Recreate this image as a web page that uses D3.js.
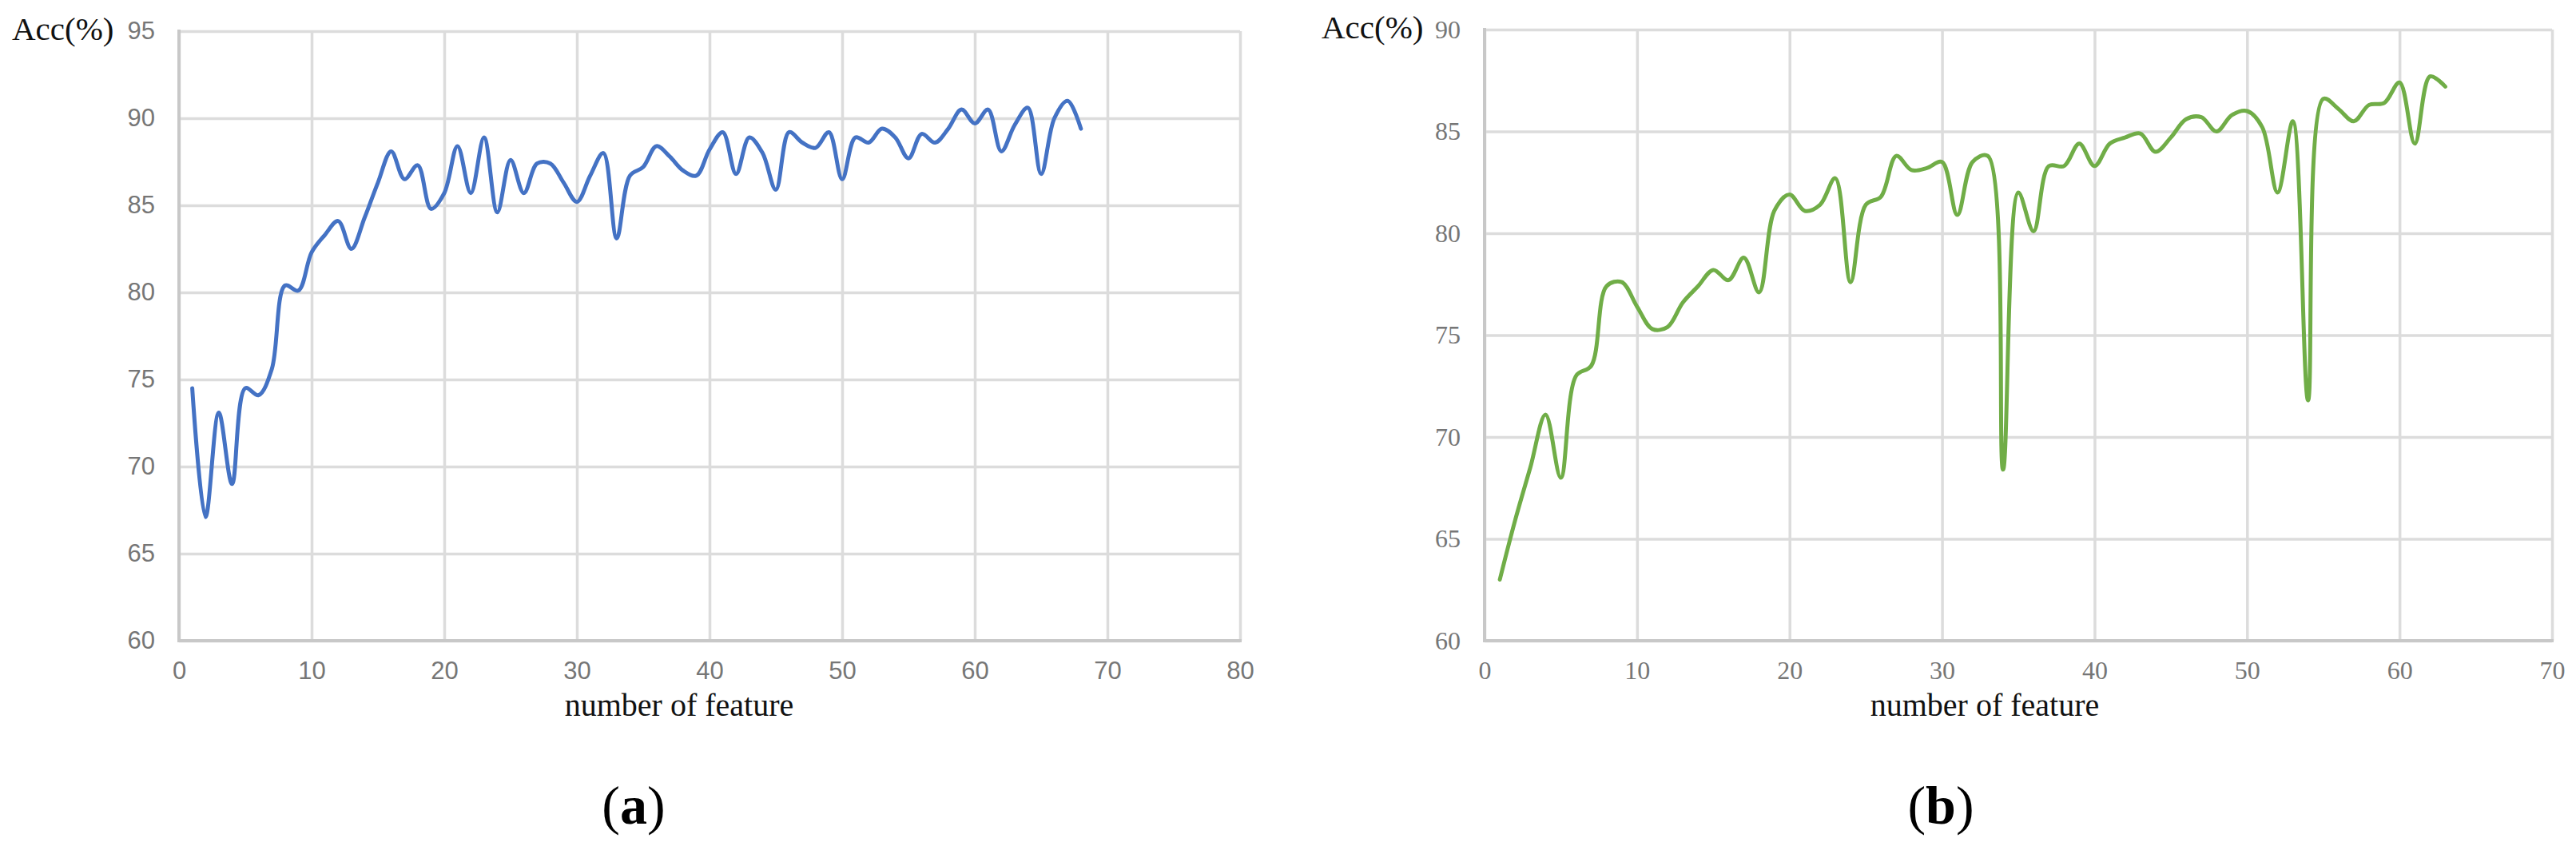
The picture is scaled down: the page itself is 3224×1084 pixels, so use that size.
<!DOCTYPE html>
<html>
<head>
<meta charset="utf-8">
<script src="https://cdn.jsdelivr.net/npm/d3@7"></script>
<style>
  body { margin: 0; background: #fff; }
  svg { display: block; }
</style>
</head>
<body>
<div id="root"></div>
<script>
const w = 3224;
const h = 1084;

// (a) accuracy for 1..68 features
const accA = [
    74.5, 67.1, 73.1, 69.0, 74.5, 74.1, 75.6, 80.4, 80.1, 82.3,
    83.3, 84.1, 82.5, 84.3, 86.3, 88.1, 86.5, 87.3, 84.8, 85.7,
    88.4, 85.7, 88.9, 84.6, 87.6, 85.7, 87.4, 87.4, 86.3, 85.2,
    86.7, 88.0, 83.1, 86.7, 87.2, 88.4, 87.8, 87.0, 86.7, 88.2,
    89.2, 86.8, 88.9, 88.0, 85.9, 89.2, 88.6, 88.3, 89.2, 86.5,
    88.9, 88.6, 89.4, 88.9, 87.7, 89.1, 88.6, 89.4, 90.5, 89.7,
    90.5, 88.1, 89.6, 90.6, 86.8, 90.0, 91.0, 89.4
];

// (b) accuracy for 1..63 features
const accB = [
    63.0, 65.9, 68.5, 71.1, 68.0, 73.0, 73.5, 77.4, 77.6, 76.4,
    75.3, 75.4, 76.6, 77.4, 78.2, 77.7, 78.8, 77.1, 81.1, 81.9,
    81.1, 81.4, 82.7, 77.6, 81.4, 81.8, 83.8, 83.1, 83.2, 83.5,
    80.9, 83.5, 83.8, 68.4, 82.0, 80.1, 83.3, 83.3, 84.4, 83.3,
    84.4, 84.7, 84.9, 84.0, 84.7, 85.6, 85.7, 85.0, 85.8, 86.0,
    85.2, 82.0, 85.5, 71.8, 86.6, 86.1, 85.5, 86.3, 86.4, 87.4,
    84.4, 87.7, 87.2
];

const xTicksA = [0, 10, 20, 30, 40, 50, 60, 70, 80];
const yTicksA = [60, 65, 70, 75, 80, 85, 90, 95];
const xTicksB = [0, 10, 20, 30, 40, 50, 60, 70];
const yTicksB = [60, 65, 70, 75, 80, 85, 90];

const panels = [
    {
        values: accA, xTicks: xTicksA, yTicks: yTicksA,
        left: 224, right: 1552, top: 39, bottom: 802,
        color: "#4472C4", tickFont: "'Liberation Sans', Arial, sans-serif", tickSize: 31,
        accX: 15, accY: 50, titleX: 850, tagX: 793, tag: "a"
    },
    {
        values: accB, xTicks: xTicksB, yTicks: yTicksB,
        left: 1858, right: 3194, top: 37, bottom: 802,
        color: "#70AD47", tickFont: "'Liberation Serif', 'Times New Roman', serif", tickSize: 32,
        accX: 1654, accY: 48, titleX: 2484, tagX: 2429, tag: "b"
    }
];

const serif = "'Liberation Serif', 'Times New Roman', serif";

const svg = d3.select("#root")
    .append("svg")
    .attr("width", w)
    .attr("height", h);

svg.append("rect")
    .attr("width", w)
    .attr("height", h)
    .attr("fill", "#fff");

panels.forEach(p => {
    const xScale = d3.scaleLinear()
        .domain([p.xTicks[0], p.xTicks[p.xTicks.length - 1]])
        .range([p.left, p.right]);
    const yScale = d3.scaleLinear()
        .domain([p.yTicks[0], p.yTicks[p.yTicks.length - 1]])
        .range([p.bottom, p.top]);

    const g = svg.append("g");

    // vertical grid
    g.append("g")
        .attr("transform", "translate(0," + p.bottom + ")")
        .call(d3.axisBottom(xScale).tickValues(p.xTicks).tickSize(-(p.bottom - p.top)).tickFormat(""))
        .call(s => s.select(".domain").remove())
        .call(s => s.selectAll("line").attr("stroke", "#dcdcdc").attr("stroke-width", 3.5));

    // horizontal grid
    g.append("g")
        .attr("transform", "translate(" + p.left + ",0)")
        .call(d3.axisLeft(yScale).tickValues(p.yTicks).tickSize(-(p.right - p.left)).tickFormat(""))
        .call(s => s.select(".domain").remove())
        .call(s => s.selectAll("line").attr("stroke", "#dcdcdc").attr("stroke-width", 3.5));

    // left and bottom axis lines
    g.append("line")
        .attr("x1", p.left).attr("x2", p.left)
        .attr("y1", p.top - 2).attr("y2", p.bottom + 2)
        .attr("stroke", "#c8c8c8").attr("stroke-width", 4);
    g.append("line")
        .attr("x1", p.left).attr("x2", p.right + 2)
        .attr("y1", p.bottom).attr("y2", p.bottom)
        .attr("stroke", "#c8c8c8").attr("stroke-width", 4);

    // tick labels
    const xAxis = g.append("g")
        .attr("transform", "translate(0," + (p.bottom + 37) + ")")
        .call(d3.axisBottom(xScale).tickValues(p.xTicks).tickSize(0).tickPadding(0));
    xAxis.select(".domain").remove();
    xAxis.selectAll("text")
        .attr("dy", "0.35em")
        .attr("y", 0)
        .attr("fill", "#767676")
        .style("font-family", p.tickFont)
        .style("font-size", p.tickSize + "px");

    const yAxis = g.append("g")
        .attr("transform", "translate(" + (p.left - 30) + ",0)")
        .call(d3.axisLeft(yScale).tickValues(p.yTicks).tickSize(0).tickPadding(0));
    yAxis.select(".domain").remove();
    yAxis.selectAll("text")
        .attr("fill", "#767676")
        .style("font-family", p.tickFont)
        .style("font-size", p.tickSize + "px");

    // data line (smoothed like a spreadsheet line chart)
    const line = d3.line()
        .x((d, i) => xScale(i + 1))
        .y(d => yScale(d))
        .curve(d3.curveCatmullRom.alpha(0.5));
    g.append("path")
        .datum(p.values)
        .attr("d", line)
        .attr("fill", "none")
        .attr("stroke", p.color)
        .attr("stroke-width", 5)
        .attr("stroke-linejoin", "round")
        .attr("stroke-linecap", "round");

    // axis titles
    g.append("text")
        .attr("x", p.accX)
        .attr("y", p.accY)
        .attr("fill", "#111")
        .style("font-family", serif)
        .style("font-size", "41px")
        .text("Acc(%)");

    g.append("text")
        .attr("x", p.titleX)
        .attr("y", 896)
        .attr("text-anchor", "middle")
        .attr("fill", "#111")
        .style("font-family", serif)
        .style("font-size", "40px")
        .text("number of feature");

    // panel tag
    const tag = g.append("text")
        .attr("x", p.tagX)
        .attr("y", 1031)
        .attr("text-anchor", "middle")
        .attr("fill", "#000")
        .style("font-family", serif)
        .style("font-size", "68px");
    tag.append("tspan").text("(");
    tag.append("tspan").attr("font-weight", "bold").text(p.tag);
    tag.append("tspan").text(")");
});
</script>
</body>
</html>
